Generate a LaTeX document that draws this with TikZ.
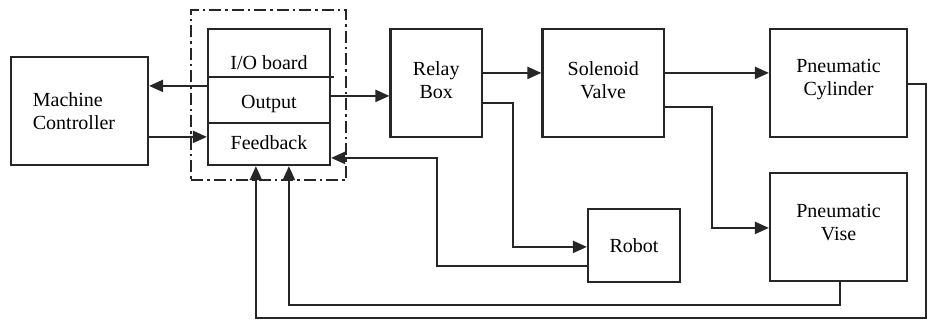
\documentclass[tikz,border=0pt]{standalone}
\usepackage{fontspec}
\setmainfont{Liberation Serif}
\newfontfamily\diagfont{Liberation Serif}
\usetikzlibrary{arrows.meta,calc}
\begin{document}
\begin{tikzpicture}[x=1bp,y=-1bp,
  line width=2.2bp, draw=black!85,
  blk/.style={draw=black!85, rectangle, inner sep=0pt, align=center,
    font=\diagfont\fontsize{20bp}{23bp}\selectfont},
  lbl/.style={inner sep=0pt, align=center, font=\diagfont\fontsize{20bp}{23bp}\selectfont},
  arr/.style={-{Triangle[length=14bp,width=12bp]}},
  grpbox/.style={draw=black!85, rectangle, line width=2bp,
    dash pattern=on 12bp off 4bp on 2.5bp off 4bp}]
\useasboundingbox (0,0) rectangle (928,321);
\fill[white] (0,0) rectangle (928,321);
% boxes
\node[blk, minimum width=137bp, minimum height=108bp] (mc) at (79.5,111) {};
\node[lbl, align=left] (mctext) at (74,111) {Machine\\Controller};
\node[grpbox, minimum width=155bp, minimum height=170bp] (grp) at (268.5,95) {};
\node[blk, minimum width=122bp, minimum height=136bp] (io) at (269,97) {};
\draw ($(io.north west)+(0,49)$) -- ($(io.north east)+(3,49)$);
\draw ($(io.north west)+(0,95)$) -- ($(io.north east)+(0,95)$);
\node[lbl] (iotext) at (269,63) {I/O board};
\node[lbl] (outtext) at (269,104) {Output};
\node[lbl] (fbtext) at (269,143) {Feedback};
\node[blk, minimum width=91.5bp, minimum height=108bp] (relay) at (436.25,83) {};
\node[lbl] (relaytext) at (436.25,80) {Relay\\Box};
\node[blk, minimum width=121.5bp, minimum height=108bp] (sol) at (603.25,83) {};
\node[lbl] (soltext) at (603.25,80) {Solenoid\\Valve};
\node[blk, minimum width=137bp, minimum height=108bp] (cyl) at (838.5,83) {};
\node[lbl] (cyltext) at (838.5,80) {Pneumatic\\Cylinder};
\node[blk, minimum width=137bp, minimum height=108bp] (vise) at (838.5,227) {};
\node[lbl] (visetext) at (838.5,223) {Pneumatic\\Vise};
\node[blk, minimum width=92bp, minimum height=73bp] (robot) at (634,245.5) {Robot};
% connectors
\draw[arr] ($(io.north west)+(0,58)$) coordinate (a1) -- (a1 -| mc.east);
\draw[arr] ($(mc.north east)+(0,81)$) coordinate (a2) -- (a2 -| io.west);
\draw[arr] ($(io.north east)+(0,68)$) coordinate (a3) -- (a3 -| relay.west);
\draw[arr] ($(relay.north east)+(0,45)$) coordinate (a4) -- (a4 -| sol.west);
\draw[arr] ($(sol.north east)+(0,45)$) coordinate (a5) -- (a5 -| cyl.west);
\draw[arr] ($(relay.north east)+(0,75)$) -- ++(30,0) |- ($(robot.north west)+(0,39)$);
\draw[arr] ($(sol.north east)+(0,79)$) -- ++(47,0) |- ($(vise.north west)+(0,56)$);
\draw[arr] ($(robot.north west)+(0,58)$) -- ++(-150,0) |- ($(io.north east)+(0,130)$);
\draw[arr] ($(vise.south)+(1.5,0)$) -- ++(0,23) -| ($(io.south west)+(82,0)$);
\draw[arr] ($(cyl.north east)+(0,56)$) -- ++(18,0) -- ++(0,234) -| ($(io.south west)+(49,0)$);
\end{tikzpicture}
\end{document}
